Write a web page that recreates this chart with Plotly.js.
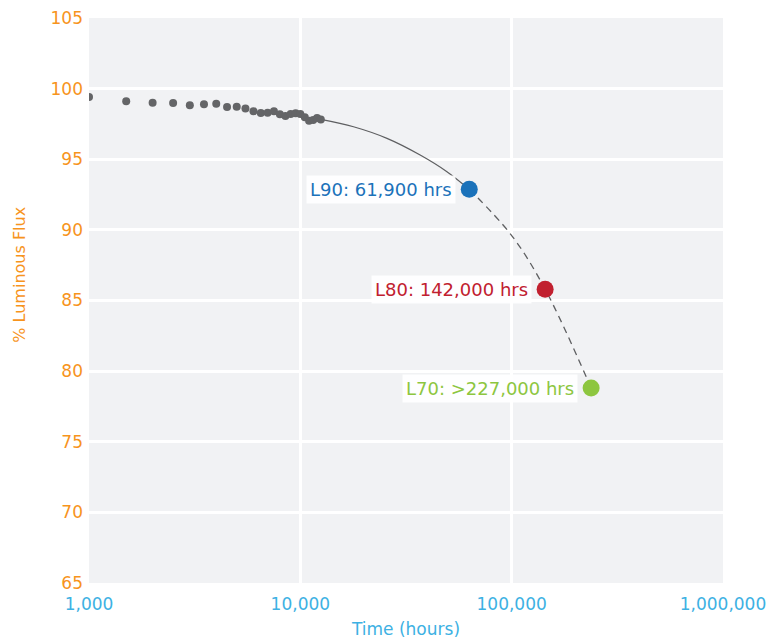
<!DOCTYPE html>
<html>
<head>
<meta charset="utf-8">
<script src="https://cdn.plot.ly/plotly-3.0.1.min.js"></script>
<style>html,body{margin:0;padding:0;background:#fff;}#chart{width:774px;height:642px;}</style>
</head>
<body>
<div id="chart"></div>
<script>
// Measured LM-80 data points
var hours = [1000,1500,2000,2500,3000,3500,4000,4500,5000,5500,6000,6500,7000,7500,8000,8500,9000,9500,10000,10500,11000,11500,12000,12500];
var flux  = [99.4,99.1,99.0,98.98,98.82,98.9,98.93,98.7,98.72,98.6,98.4,98.28,98.3,98.4,98.18,98.06,98.2,98.25,98.2,97.98,97.72,97.78,97.92,97.82];

// Projection curve
var fitHours = [12500,17850,25700,36900,49400,63000];
var fitFlux  = [97.82,97.3,96.48,95.3,94.12,92.87];
var extHours = [63000,100000,144000,237700];
var extFlux  = [92.87,89.6,85.8,78.8];

// Milestones
var msLabels = ['L90: 61,900 hrs','L80: 142,000 hrs','L70: >227,000 hrs'];
var msHours  = [63000,144000,237700];
var msFlux   = [92.87,85.8,78.8];
var msColors = ['#1b72ba','#c1202f','#8dc63f'];

var xTickVals = [1000,10000,100000,1000000];
var xTickText = ['1,000','10,000','100,000','1,000,000'];
var yTickVals = [65,70,75,80,85,90,95,100,105];

var FONT = '"DejaVu Sans", "Open Sans", sans-serif';

var traces = [
  {x: fitHours, y: fitFlux, mode: 'lines', line: {color: '#5e5f61', width: 1.2, shape: 'spline'}, hoverinfo: 'skip'},
  {x: extHours, y: extFlux, mode: 'lines', line: {color: '#5e5f61', width: 1.3, shape: 'spline', dash: '7px,5px'}, hoverinfo: 'skip'},
  {x: hours, y: flux, mode: 'markers', marker: {color: '#646567', size: 8}},
  {x: msHours, y: msFlux, mode: 'markers', marker: {color: msColors, size: 17}}
];

var annotations = msLabels.map(function(t, i){
  return {
    x: Math.log10(msHours[i]), y: msFlux[i], xref: 'x', yref: 'y',
    text: t, showarrow: false, xanchor: 'right', yanchor: 'middle',
    xshift: -13, bgcolor: 'rgba(255,255,255,0.92)', borderpad: 3,
    font: {family: FONT, size: 18, color: msColors[i]}
  };
});
annotations.push({
  text: '% Luminous Flux', xref: 'paper', yref: 'paper', x: -0.111, y: 0.545,
  xanchor: 'center', yanchor: 'middle', textangle: -90, showarrow: false,
  font: {family: FONT, size: 16, color: '#f7941d'}
});

var layout = {
  width: 774, height: 642,
  margin: {l: 89, r: 51, t: 18, b: 59},
  paper_bgcolor: '#ffffff',
  plot_bgcolor: '#f1f2f4',
  showlegend: false,
  font: {family: FONT},
  xaxis: {
    type: 'log', range: [3, 6],
    tickvals: xTickVals, ticktext: xTickText,
    tickfont: {family: FONT, size: 17, color: '#3db1e3'},
    showgrid: true, gridcolor: '#ffffff', gridwidth: 3,
    zeroline: false, showline: false, ticks: '', ticklabelstandoff: 9,
    title: {text: 'Time (hours)', font: {family: FONT, size: 17, color: '#3db1e3'}, standoff: 10}
  },
  yaxis: {
    range: [65, 105], tickvals: yTickVals,
    tickfont: {family: FONT, size: 17, color: '#f7941d'},
    showgrid: true, gridcolor: '#ffffff', gridwidth: 3,
    zeroline: false, showline: false, ticks: '', ticklabelstandoff: 5
  },
  annotations: annotations
};

Plotly.newPlot('chart', traces, layout, {displayModeBar: false, staticPlot: true});
</script>
</body>
</html>
